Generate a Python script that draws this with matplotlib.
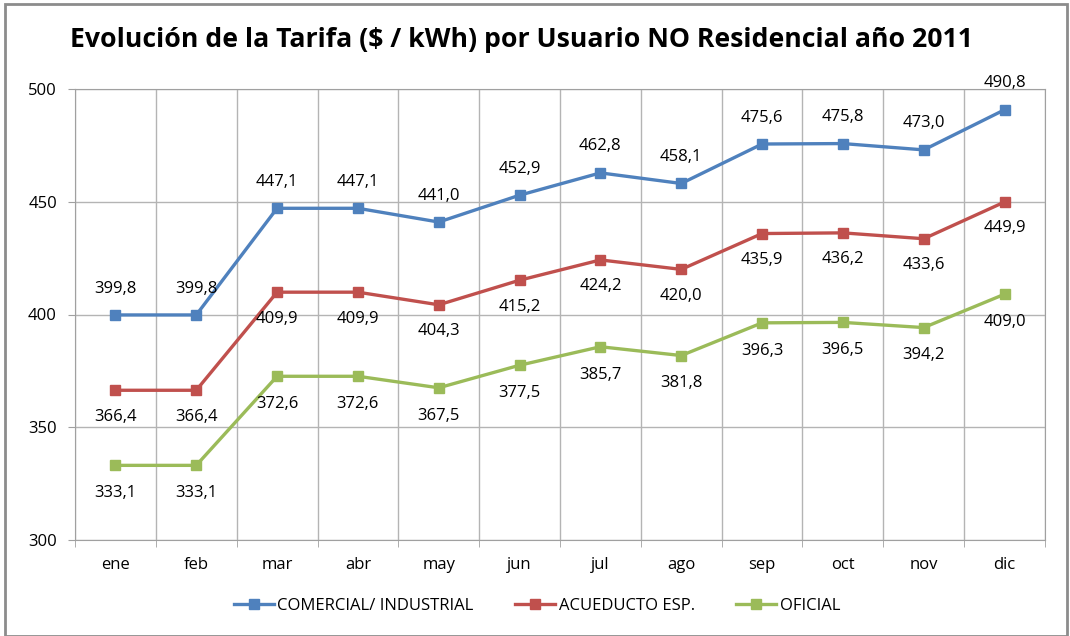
import matplotlib.pyplot as plt
from matplotlib.patches import Rectangle
import numpy as np

meses = ["ene", "feb", "mar", "abr", "may", "jun", "jul", "ago", "sep", "oct", "nov", "dic"]

comercial = [399.8, 399.8, 447.1, 447.1, 441.0, 452.9, 462.8, 458.1, 475.6, 475.8, 473.0, 490.8]
acueducto = [366.4, 366.4, 409.9, 409.9, 404.3, 415.2, 424.2, 420.0, 435.9, 436.2, 433.6, 449.9]
oficial = [333.1, 333.1, 372.6, 372.6, 367.5, 377.5, 385.7, 381.8, 396.3, 396.5, 394.2, 409.0]

plt.rcParams['font.family'] = ['Open Sans', 'DejaVu Sans']

fig = plt.figure(figsize=(10.7, 6.36), dpi=100)
ax = fig.add_axes([75 / 1070, 96 / 636, 970 / 1070, 451 / 636])

# marco gris alrededor del grafico
fig.patches.append(Rectangle((5 / 1070, 0), 1062 / 1070, 632 / 636, transform=fig.transFigure,
                             fill=False, edgecolor="#8c8c8c", linewidth=2))

x = np.arange(len(meses))
series = [
    (comercial, "#4F81BD", "COMERCIAL/ INDUSTRIAL", 19),
    (acueducto, "#C0504D", "ACUEDUCTO ESP.", -19),
    (oficial, "#9BBB59", "OFICIAL", -20),
]
for vals, col, lab, off in series:
    ax.plot(x, vals, color=col, linewidth=2.4, marker="s", markersize=7.5, label=lab)
    for xi, v in zip(x, vals):
        ax.annotate(f"{v:.1f}".replace(".", ","), (xi, v), xytext=(0, off),
                    textcoords="offset points", ha="center", va="center", fontsize=12,
                    color="#000000")

ax.set_xlim(-0.5, 11.5)
ax.set_ylim(300, 500)
ax.set_yticks([300, 350, 400, 450, 500])
ax.set_xticks(x)
ax.set_xticklabels(meses)
ax.set_xticks(np.arange(-0.5, 12, 1), minor=True)
ax.tick_params(axis="x", which="major", length=0, pad=12, labelsize=12)
ax.tick_params(axis="x", which="minor", length=5, direction="out", color="#a0a0a0")
ax.tick_params(axis="y", length=5, direction="out", color="#a0a0a0", labelsize=12, pad=8)
ax.grid(True, which="minor", axis="x", color="#b4b4b4", linewidth=1)
ax.grid(True, which="major", axis="y", color="#b4b4b4", linewidth=1)
for s in ax.spines.values():
    s.set_color("#a0a0a0")

fig.text(0.487, 0.937, "Evolución de la Tarifa ($ / kWh) por Usuario NO Residencial año 2011",
         ha="center", va="center", fontsize=19.2, fontweight="bold")

fig.legend(loc="center", bbox_to_anchor=(0.502, 0.047), ncol=3, frameon=False, fontsize=12,
           handlelength=2.4, handletextpad=0.2, columnspacing=2.5)

fig.savefig("out.png", dpi=100)
